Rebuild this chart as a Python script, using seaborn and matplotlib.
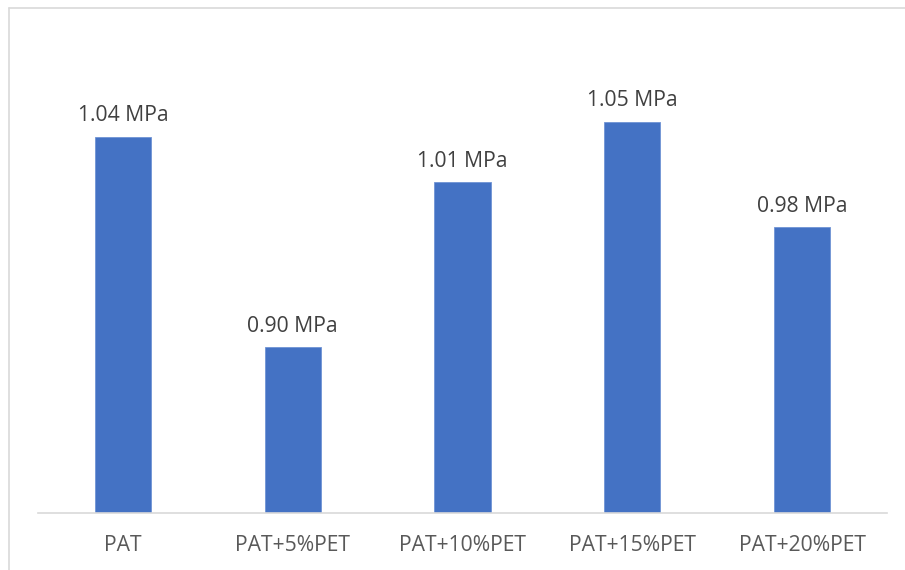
import matplotlib
matplotlib.use("Agg")
import matplotlib.pyplot as plt
import seaborn as sns
import pandas as pd

categories = ["PAT", "PAT+5%PET", "PAT+10%PET", "PAT+15%PET", "PAT+20%PET"]
strength_mpa = [1.04, 0.90, 1.01, 1.05, 0.98]
value_labels = ["1.04 MPa", "0.90 MPa", "1.01 MPa", "1.05 MPa", "0.98 MPa"]

sns.set_theme(style="white")
plt.rcParams["font.family"] = ["Open Sans", "DejaVu Sans"]

W, H = 905, 570
fig = plt.figure(figsize=(W / 100, H / 100), dpi=100)
fig.patch.set_facecolor("white")

# Chart frame (left and top edges visible)
fig.add_artist(plt.Line2D([9 / W, 9 / W], [0, 1 - 8 / H], transform=fig.transFigure,
                          color="#d9d9d9", lw=1.2))
fig.add_artist(plt.Line2D([9 / W, 1], [1 - 8 / H, 1 - 8 / H], transform=fig.transFigure,
                          color="#d9d9d9", lw=1.2))

left, right = 38, 887
bottom, top = 513, 20
ax = fig.add_axes([left / W, (H - bottom) / H, (right - left) / W, (bottom - top) / H])

df = pd.DataFrame({"cat": categories, "val": strength_mpa})
sns.barplot(data=df, x="cat", y="val", ax=ax, color="#4472C4", width=0.33,
            saturation=1, edgecolor="#6f93d4", linewidth=0.6)

ax.set_ylim(0.79, 1.1176)
ax.set_xlim(-0.5, len(categories) - 0.5)
ax.bar_label(ax.containers[0], labels=value_labels, padding=7.5, fontsize=15.2,
             color="#404040")

for s in ["top", "right", "left"]:
    ax.spines[s].set_visible(False)
ax.spines["bottom"].set_color("#d9d9d9")
ax.spines["bottom"].set_linewidth(1.2)
ax.set_yticks([])
ax.set_xlabel("")
ax.set_ylabel("")
ax.tick_params(axis="x", length=0, pad=16, labelsize=15.2, labelcolor="#595959")
ax.set_facecolor("white")

fig.savefig("out.png", dpi=100, facecolor="white")
